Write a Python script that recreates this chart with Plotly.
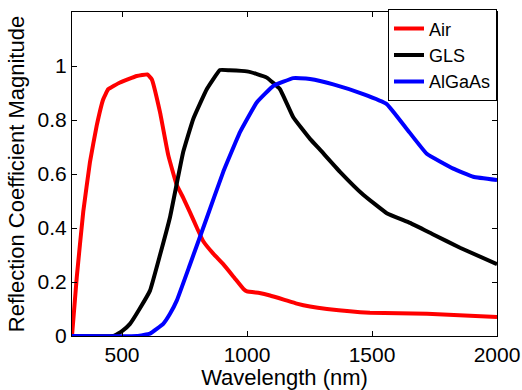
import plotly.graph_objects as go

air_x = [300, 319, 345, 372, 399, 425, 445, 492, 559, 601, 619, 652, 685, 719, 745, 772, 800, 825, 865, 905, 950, 985, 1000, 1050, 1092, 1150, 1199, 1252, 1320, 1492, 1720, 2000]
air_y = [0.0, 0.217, 0.46, 0.645, 0.78, 0.877, 0.914, 0.939, 0.963, 0.969, 0.951, 0.829, 0.67, 0.559, 0.512, 0.458, 0.40, 0.351, 0.305, 0.266, 0.215, 0.175, 0.165, 0.159, 0.150, 0.134, 0.120, 0.109, 0.100, 0.086, 0.082, 0.070]

gls_x = [300, 465, 500, 532, 570, 612, 652, 692, 745, 785, 839, 892, 930, 999, 1040, 1079, 1132, 1185, 1252, 1292, 1372, 1465, 1559, 1652, 1745, 1852, 2000]
gls_y = [0.0, 0.0, 0.018, 0.045, 0.10, 0.168, 0.30, 0.44, 0.682, 0.804, 0.914, 0.985, 0.984, 0.980, 0.970, 0.957, 0.914, 0.81, 0.730, 0.690, 0.608, 0.523, 0.455, 0.419, 0.376, 0.327, 0.266]

algaas_x = [300, 560, 612, 665, 692, 719, 772, 839, 905, 972, 1039, 1105, 1185, 1212, 1252, 1345, 1465, 1559, 1639, 1719, 1825, 1905, 2000]
algaas_y = [0.0, 0.0, 0.009, 0.045, 0.082, 0.131, 0.265, 0.437, 0.608, 0.755, 0.865, 0.926, 0.955, 0.955, 0.952, 0.932, 0.896, 0.859, 0.767, 0.675, 0.62, 0.59, 0.578]

x_ticks = [500, 1000, 1500, 2000]
y_ticks = [0, 0.2, 0.4, 0.6, 0.8, 1]
y_tick_text = ["0", "0.2", "0.4", "0.6", "0.8", "1"]

font = "Liberation Sans, Arial, sans-serif"

fig = go.Figure()
for name, xs, ys, col in [("Air", air_x, air_y, "#ff0000"),
                          ("GLS", gls_x, gls_y, "#000000"),
                          ("AlGaAs", algaas_x, algaas_y, "#0000ff")]:
    fig.add_trace(go.Scatter(x=xs, y=ys, name=name, mode="lines",
                             line=dict(color=col, width=4, shape="spline", smoothing=0.3)))

axis_common = dict(showline=True, linecolor="black", linewidth=1, mirror="ticks",
                   ticks="inside", ticklen=5, tickcolor="black", showgrid=False,
                   zeroline=False, automargin=False,
                   tickfont=dict(size=21, color="black", family=font))

fig.update_xaxes(range=[300, 2000], tickvals=x_ticks,
                 title=dict(text="Wavelength (nm)", font=dict(size=22, color="black", family=font), standoff=2),
                 **axis_common)
fig.update_yaxes(range=[0, 1.2], tickvals=y_ticks, ticktext=y_tick_text,
                 title=dict(text="Reflection Coefficient Magnitude", font=dict(size=22, color="black", family=font), standoff=6),
                 **axis_common)

fig.update_layout(
    width=522, height=390,
    margin=dict(l=72, r=25, t=9, b=54),
    plot_bgcolor="white", paper_bgcolor="white",
    font=dict(family=font, color="black"),
    legend=dict(x=1.0, y=1.008, xanchor="right", yanchor="top",
                bgcolor="white", bordercolor="black", borderwidth=1,
                font=dict(size=18, color="black", family=font),
                itemwidth=30, tracegroupgap=0),
)

fig.write_html("out.html")
